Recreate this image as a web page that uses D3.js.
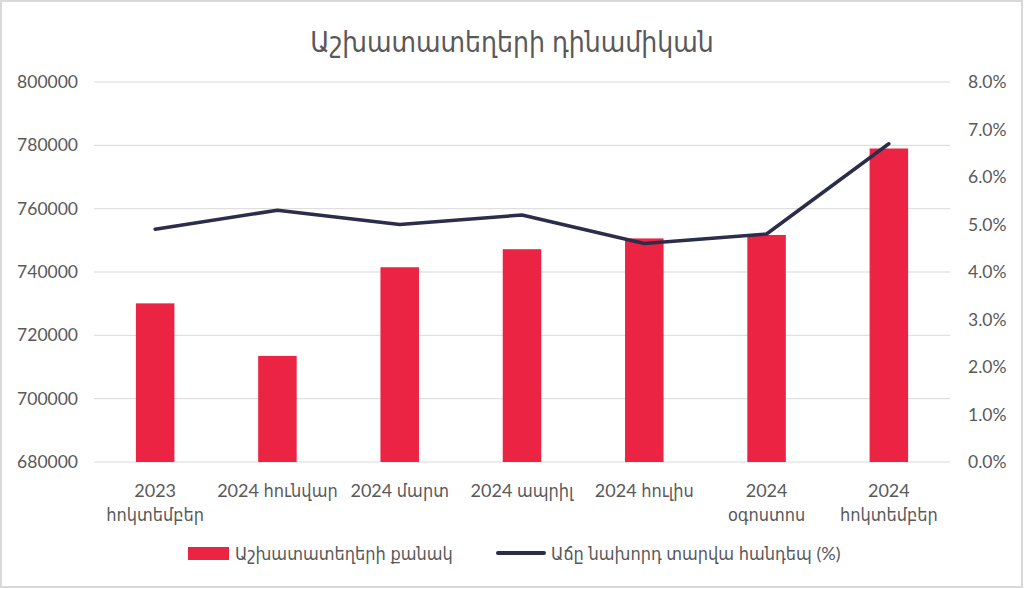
<!DOCTYPE html>
<html><head><meta charset="utf-8">
<script src="https://cdn.jsdelivr.net/npm/d3@7"></script>
<style>
html,body{margin:0;padding:0;background:#fff;}
text{font-family:Lato,"DejaVu Sans Condensed","DejaVu Sans",sans-serif;fill:#595959;}
</style></head>
<body><svg id="c" width="1024" height="589"></svg>
<script>
const title = "Աշխատատեղերի դինամիկան";
const categories = [
  ["2023", "հոկտեմբեր"],
  ["2024 հունվար"],
  ["2024 մարտ"],
  ["2024 ապրիլ"],
  ["2024 հուլիս"],
  ["2024", "օգոստոս"],
  ["2024", "հոկտեմբեր"]
];
const jobs = [730100, 713500, 741500, 747200, 750600, 751700, 779000];
const growth = [4.9, 5.3, 5.0, 5.2, 4.6, 4.8, 6.7];
const leftTicks = [680000, 700000, 720000, 740000, 760000, 780000, 800000];
const rightTicks = [0, 1, 2, 3, 4, 5, 6, 7, 8];
const seriesNames = ["Աշխատատեղերի քանակ", "Աճը նախորդ տարվա հանդեպ (%)"];

const svg = d3.select("#c");
svg.append("rect").attr("x",1).attr("y",1).attr("width",1021).attr("height",586)
  .attr("fill","#fff").attr("stroke","#d9d9d9").attr("stroke-width",2);

const L = 94, R = 950, T = 82, B = 462;
const x = d3.scaleBand().domain(d3.range(categories.length)).range([L, R]).paddingInner(0.685).paddingOuter(0.3425);
const yL = d3.scaleLinear().domain([680000, 800000]).range([B, T]);
const yR = d3.scaleLinear().domain([0, 8]).range([B, T]);

// gridlines
svg.append("g").selectAll("line").data(leftTicks).join("line")
  .attr("x1", L).attr("x2", R).attr("y1", d => yL(d)).attr("y2", d => yL(d))
  .attr("stroke", "#d9d9d9").attr("stroke-width", 1);

// left axis labels
const ax = svg.append("g").attr("transform", `translate(${L-16},0)`)
  .call(d3.axisLeft(yL).tickValues(leftTicks).tickSize(0).tickPadding(0).tickFormat(d3.format("d")));
ax.select(".domain").remove();
ax.selectAll("text").attr("font-size", 17.5).style("font-family","Lato,sans-serif").attr("fill","#595959");

const axr = svg.append("g").attr("transform", `translate(${R+18},0)`)
  .call(d3.axisRight(yR).tickValues(rightTicks).tickSize(0).tickPadding(0).tickFormat(d => d3.format(".1f")(d) + "%"));
axr.select(".domain").remove();
axr.selectAll("text").attr("font-size", 17.5).style("font-family","Lato,sans-serif").attr("fill","#595959");

// bars
svg.append("g").selectAll("rect").data(jobs).join("rect")
  .attr("x", (d, i) => x(i)).attr("width", x.bandwidth())
  .attr("y", d => yL(d)).attr("height", d => B - yL(d))
  .attr("fill", "#ec2444");

// line
const line = d3.line().x((d, i) => x(i) + x.bandwidth() / 2).y(d => yR(d));
svg.append("path").datum(growth).attr("d", line)
  .attr("fill", "none").attr("stroke", "#2b2d4a").attr("stroke-width", 3.5)
  .attr("stroke-linecap", "round").attr("stroke-linejoin", "round");

// x labels
const xl = svg.append("g");
categories.forEach((lines, i) => {
  const t = xl.append("text").attr("text-anchor", "middle").attr("font-size", 18)
    .attr("x", x(i) + x.bandwidth() / 2).attr("y", 497);
  lines.forEach((s, j) => t.append("tspan").attr("x", x(i) + x.bandwidth() / 2).attr("dy", j ? 24 : 0).text(s));
});

// title
svg.append("text").attr("x", 512).attr("y", 52).attr("text-anchor", "middle")
  .attr("font-size", 28).text(title);

// legend
const lg = svg.append("g");
lg.append("rect").attr("x", 188).attr("y", 547).attr("width", 41).attr("height", 13).attr("fill", "#ec2444");
lg.append("text").attr("x", 235).attr("y", 560).attr("font-size", 18).text(seriesNames[0]);
lg.append("line").attr("x1", 498).attr("x2", 544).attr("y1", 553).attr("y2", 553)
  .attr("stroke", "#2b2d4a").attr("stroke-width", 4).attr("stroke-linecap", "round");
lg.append("text").attr("x", 551).attr("y", 560).attr("font-size", 18).text(seriesNames[1]);
</script></body></html>
